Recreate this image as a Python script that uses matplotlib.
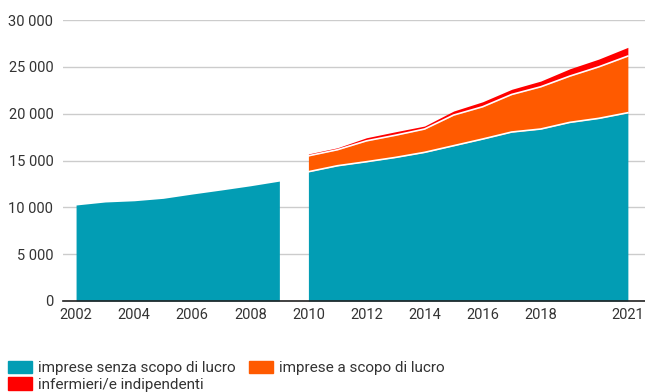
import matplotlib.pyplot as plt
import numpy as np
from matplotlib.patches import Patch

plt.rcParams["font.family"] = ["Roboto", "DejaVu Sans"]

# Personale infermieristico per tipo di fornitore
years_a = [2002, 2003, 2004, 2005, 2006, 2007, 2008, 2009]
nonprofit_a = [10250, 10570, 10700, 10960, 11420, 11850, 12300, 12800]

years_b = [2010, 2011, 2012, 2013, 2014, 2015, 2016, 2017, 2018, 2019, 2020, 2021]
nonprofit_b = [13800, 14440, 14870, 15330, 15870, 16580, 17290, 18040, 18360, 19070, 19500, 20100]
profit_b = [1700, 1710, 2230, 2370, 2490, 3270, 3450, 4010, 4510, 4940, 5500, 6050]
independent_b = [200, 210, 330, 370, 320, 430, 530, 550, 610, 780, 830, 930]

labels = ["imprese senza scopo di lucro", "imprese a scopo di lucro", "infermieri/e indipendenti"]
colors = ["#029db4", "#ff5a00", "#ff0000"]
xtick_years = [2002, 2004, 2006, 2008, 2010, 2012, 2014, 2016, 2018, 2021]
yticks = [0, 5000, 10000, 15000, 20000, 25000, 30000]

text_col = "#333333"

fig = plt.figure(figsize=(6.45, 3.92), dpi=100)
ax = fig.add_axes([63 / 645, 1 - 301 / 392, 582 / 645, 281 / 392])

ax.fill_between(years_a, 0, nonprofit_a, color=colors[0], lw=0)

nb = np.array(nonprofit_b)
pb = nb + np.array(profit_b)
ib = pb + np.array(independent_b)
ax.fill_between(years_b, 0, nb, color=colors[0], lw=0)
ax.fill_between(years_b, nb, pb, color=colors[1], lw=0)
ax.fill_between(years_b, pb, ib, color=colors[2], lw=0)
ax.plot(years_b, nb, color="white", lw=1.2)
ax.plot(years_b, pb, color="white", lw=1.2)

ax.set_xlim(2001.55, 2021.59)
ax.set_ylim(0, 30000)
ax.set_yticks(yticks)
ax.set_yticklabels([f"{v:,}".replace(",", " ") for v in yticks])
ax.set_xticks(xtick_years)
ax.set_xticklabels([str(y) for y in xtick_years])
ax.tick_params(axis="both", length=0, labelsize=10.5, labelcolor=text_col)
ax.tick_params(axis="y", pad=7)
ax.tick_params(axis="x", pad=5)

ax.grid(axis="y", color="#cccccc", lw=1)
ax.set_axisbelow(True)
for side in ["top", "right", "left"]:
    ax.spines[side].set_visible(False)
ax.spines["bottom"].set_color("#222222")
ax.spines["bottom"].set_linewidth(1.2)
ax.spines["bottom"].set_zorder(5)

handles = [Patch(color=c, label=l) for c, l in zip(colors, labels)]
order = [0, 2, 1]
fig.legend([handles[i] for i in order], [labels[i] for i in order],
           loc="upper left", bbox_to_anchor=(0.0, 1 - 353 / 392), ncol=2, frameon=False,
           fontsize=11, labelcolor=text_col, handlelength=1.6, handleheight=0.9,
           handletextpad=0.4, columnspacing=0.85, labelspacing=0.12, borderaxespad=0.3,
           borderpad=0.2)

fig.savefig("out.png", dpi=100)
